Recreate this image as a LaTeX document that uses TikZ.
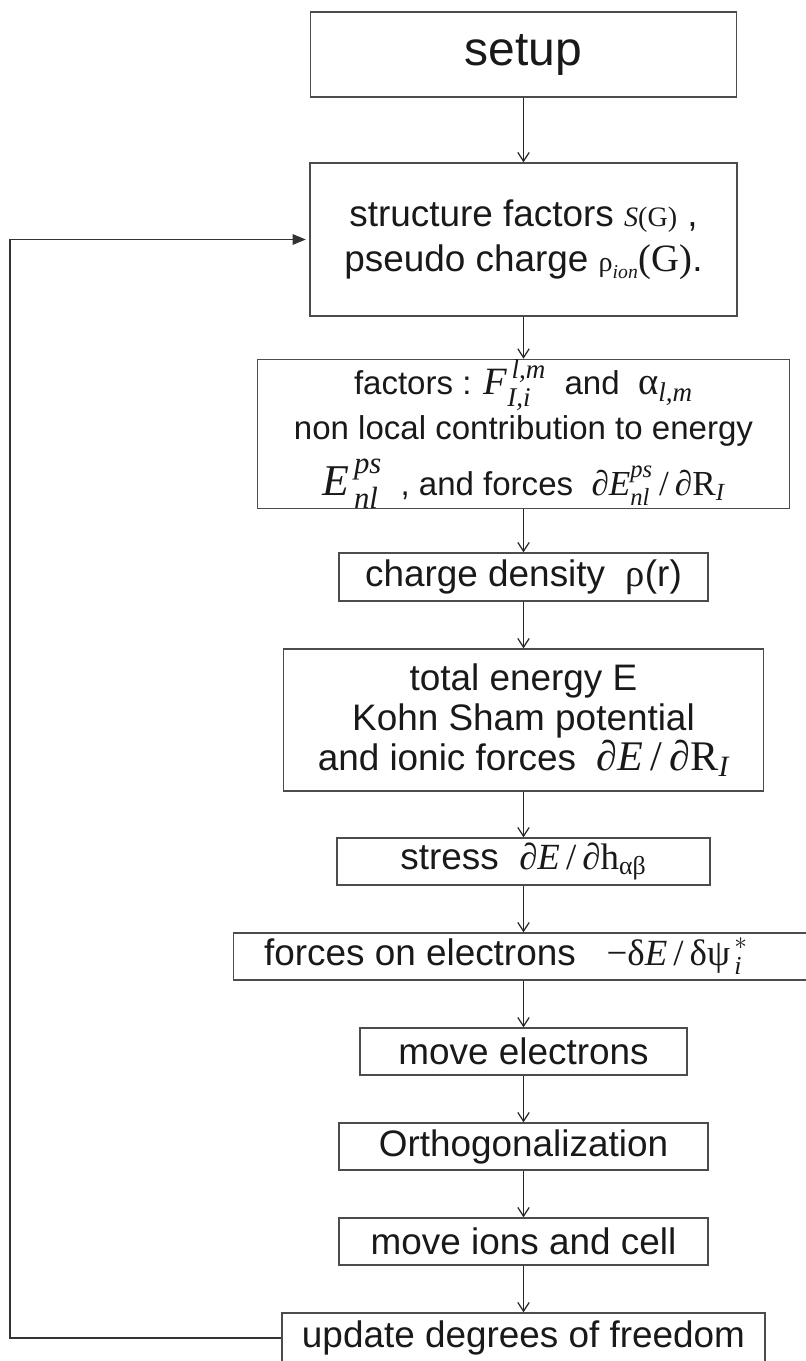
\documentclass[tikz,border=0pt]{standalone}
\usepackage{amsmath}
\usepackage{fontspec}
\setmainfont{Liberation Sans}
\newfontfamily\tms{Liberation Serif}
\usetikzlibrary{arrows.meta}
\newcommand{\up}[1]{\text{\tms #1}}
\newcommand{\vi}[1]{\text{\tms\itshape #1}}

\begin{document}
\begin{tikzpicture}[x=0.02cm,y=-0.02cm,
  stepbox/.style={draw=black!70,line width=0.8pt,align=center,inner sep=0pt,text=black!90,
    font=\fontsize{21}{25.6}\selectfont},
  flow/.style={-{Straight Barb[length=5pt,width=6.5pt]},line width=0.7pt,black!85},
  loopback/.style={-{Triangle[length=7.5pt,width=6pt]},line width=0.7pt,black!80,shorten >=2pt}]
\useasboundingbox (0,0) rectangle (805,1361);
\node[stepbox,minimum width=8.52cm,minimum height=1.7cm,font=\fontsize{27.3}{30}\selectfont](setup) at (523.5,54.5){setup};
\node[stepbox,minimum width=8.54cm,minimum height=3.06cm](struct) at (523.5,239.5)
  {structure factors {\fontsize{16}{16}\selectfont$\vi{S}\up{(G)}$}\ ,\\
   pseudo charge {\fontsize{16}{16}\selectfont$\up{ρ}_{\vi{ion}}$}{\fontsize{22}{22}\selectfont$\up{(G)}$}.};
\node[stepbox,minimum width=10.64cm,minimum height=2.84cm,font=\fontsize{18.8}{25.6}\selectfont](nonloc) at (523.5,434)
  {factors : {\fontsize{22}{22}\selectfont$\vi{F}^{\,\vi{l,m}}_{\vi{I,i}}$}\ \ and\ \ {\fontsize{22}{22}\selectfont$\up{α}_{\vi{l,m}}$}\\
   non local contribution to energy\\[6pt]
   {\fontsize{25}{25}\selectfont$\vi{E}^{\,\vi{ps}}_{\,\vi{nl}}$}\ \ , and forces\ \ {\fontsize{20}{20}\selectfont$\up{∂}\vi{E}^{\vi{ps}}_{\vi{nl}}\,\up{/}\,\up{∂R}_{\vi{I}}$}};
\node[stepbox,minimum width=7.38cm,minimum height=0.96cm](charge) at (523.5,577)
  {charge density\ \ {\fontsize{22}{22}\selectfont$\up{ρ}$}(r)};
\node[stepbox,minimum width=9.6cm,minimum height=2.84cm,font=\fontsize{21}{22.8}\selectfont](energy) at (523.5,720)
  {total energy E\\ Kohn Sham potential\\
   and ionic forces\ \ {\fontsize{24}{24}\selectfont$\up{∂}\vi{E}\,\up{/}\,\up{∂R}_{\vi{I}}$}};
\node[stepbox,minimum width=7.46cm,minimum height=0.94cm](stress) at (523.5,861.5)
  {stress\ \ $\up{∂}\vi{E}\,\up{/}\,\up{∂h}_{\up{αβ}}$};
\node[stepbox,minimum width=11.6cm,minimum height=0.94cm](eforce) at (523.5,956.5)
  {forces on electrons\ \ \ $\up{−δ}\vi{E}\,\up{/}\,\up{δψ}^{\,*}_{\,\vi{i}}$\hspace*{0.7cm}};
\node[stepbox,minimum width=6.54cm,minimum height=0.94cm](movee) at (523.5,1051.5){move electrons};
\node[stepbox,minimum width=7.38cm,minimum height=0.94cm](ortho) at (523.5,1146.5){Orthogonalization};
\node[stepbox,minimum width=7.38cm,minimum height=0.94cm](movei) at (523.5,1241.5){move ions and cell};
\node[stepbox,minimum width=9.66cm,minimum height=1cm](update) at (523.5,1338){update degrees of freedom};
\coordinate (edge) at (10,1338);
\foreach \a/\b in {setup/struct,struct/nonloc,nonloc/charge,charge/energy,energy/stress,
  stress/eforce,eforce/movee,movee/ortho,ortho/movei,movei/update}
  \draw[flow](\a.south)--(\b.north);
\draw[loopback](update.west)--(edge)|-(struct.west);
\end{tikzpicture}
\end{document}
